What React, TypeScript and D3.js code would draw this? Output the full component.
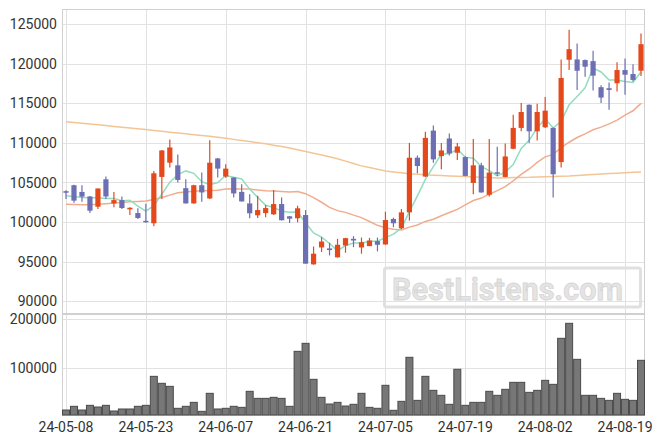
import React, { useEffect, useRef } from 'react';
import * as d3 from 'd3';

// trading days, 24-05-08 .. 24-08-21
const dates: string[] = [
  '24-05-08', '24-05-09', '24-05-10', '24-05-13', '24-05-14', '24-05-16', '24-05-17', '24-05-20',
  '24-05-21', '24-05-22', '24-05-23', '24-05-24', '24-05-27', '24-05-28', '24-05-29', '24-05-30',
  '24-05-31', '24-06-03', '24-06-04', '24-06-05', '24-06-07', '24-06-10', '24-06-11', '24-06-12',
  '24-06-13', '24-06-14', '24-06-17', '24-06-18', '24-06-19', '24-06-20', '24-06-21', '24-06-24',
  '24-06-25', '24-06-26', '24-06-27', '24-06-28', '24-07-01', '24-07-02', '24-07-03', '24-07-04',
  '24-07-05', '24-07-08', '24-07-09', '24-07-10', '24-07-11', '24-07-12', '24-07-15', '24-07-16',
  '24-07-17', '24-07-18', '24-07-19', '24-07-22', '24-07-23', '24-07-24', '24-07-25', '24-07-26',
  '24-07-29', '24-07-30', '24-07-31', '24-08-01', '24-08-02', '24-08-05', '24-08-06', '24-08-07',
  '24-08-08', '24-08-09', '24-08-12', '24-08-13', '24-08-14', '24-08-16', '24-08-19', '24-08-20',
  '24-08-21',
];

const opens: number[] = [
  103900, 104650, 103800, 103230, 101930, 105400, 102350, 102770, 101600, 101130, 100150, 99840,
  105700, 107500, 107165, 104280, 102350, 104650, 102980, 108040, 105750, 105620, 103810, 102350,
  100850, 101130, 100970, 102270, 100720, 100470, 100880, 94640, 96780, 96660, 95530, 97030,
  97870, 96780, 96950, 97580, 97160, 100380, 99210, 101220, 108130, 105750, 111560, 108340,
  110560, 108760, 108210, 104940, 107170, 103440, 106290, 105700, 109260, 111900, 114830, 111470,
  111980, 111900, 107580, 120520, 120560, 120480, 120350, 117050, 116920, 117550, 119220, 118720,
  119130,
];
const highs: number[] = [
  104000, 104700, 104650, 103300, 104250, 105750, 103800, 103230, 101850, 101730, 102300, 106450,
  109100, 110430, 108540, 105400, 104700, 106250, 110350, 108100, 107290, 105650, 104780, 103520,
  103310, 102140, 104060, 103110, 100750, 102060, 101510, 96900, 98080, 97370, 97870, 98000,
  98210, 98030, 98000, 98030, 101300, 100550, 101640, 110000, 108420, 111400, 112190, 110000,
  111180, 110000, 108300, 110500, 107500, 110500, 109510, 109930, 113570, 115040, 114850, 114950,
  115800, 111950, 120560, 124330, 122580, 120560, 121650, 117300, 117630, 120190, 120690, 119940,
  123830,
];
const lows: number[] = [
  102900, 102450, 102550, 101150, 101650, 102900, 101850, 101640, 100880, 100380, 99900, 99470,
  102900, 106880, 105000, 102350, 102300, 102560, 102900, 105620, 105600, 103110, 102600, 100470,
  100500, 100600, 100900, 100200, 99880, 99960, 94730, 94600, 96200, 95770, 95500, 96110,
  96820, 95990, 96950, 96280, 97100, 99340, 99100, 100170, 106160, 105700, 107500, 106660,
  108420, 107830, 105800, 103520, 103700, 103230, 105830, 105650, 109200, 111470, 110000, 110300,
  111900, 103110, 106880, 119220, 116710, 118380, 116630, 115040, 114200, 116500, 116080, 117760,
  118470,
];
const closes: number[] = [
  103700, 102700, 103200, 101430, 104240, 103230, 102770, 101770, 101800, 100510, 100050, 106160,
  109050, 109430, 105320, 102350, 104650, 103740, 107500, 106750, 106750, 103610, 102600, 101100,
  101510, 101760, 102270, 100220, 100420, 101730, 94730, 95990, 97530, 96450, 97120, 97960,
  97660, 97450, 97660, 97120, 100250, 99840, 101220, 108130, 107080, 110640, 107920, 109050,
  108670, 109550, 105830, 107170, 103740, 106250, 106130, 108290, 111900, 113910, 111470, 113910,
  114080, 106040, 118220, 121860, 119130, 119640, 118510, 115740, 116710, 119220, 118630, 117970,
  122490,
];
const volumes: number[] = [
  14300, 21900, 14300, 23900, 20500, 23900, 12300, 16400, 16400, 21900, 23900, 83300,
  69000, 62800, 17800, 21900, 30000, 11600, 48500, 16400, 17800, 21900, 19800, 52600,
  38200, 38200, 40300, 38200, 21900, 134500, 150900, 77200, 40300, 26600, 30000, 22500,
  26000, 48500, 19800, 17800, 64900, 13700, 32100, 122300, 34100, 83300, 54600, 44400,
  26000, 97700, 23900, 30000, 30000, 52600, 44400, 56700, 71000, 71000, 50500, 54600,
  75100, 66900, 161200, 191900, 118100, 44400, 44400, 38200, 34100, 48500, 36200, 34100,
  116100,
];

// moving averages
const ma5: number[] = [
  103310, 103230, 103100, 103060, 103054, 102960, 102974, 102688, 102762, 102016, 101380, 102058,
  103514, 105040, 106002, 106462, 106160, 105098, 104712, 104998, 105878, 105670, 105442, 104162,
  103114, 102116, 101848, 101372, 101236, 101280, 99874, 98618, 98080, 97286, 96364, 97010,
  97344, 97328, 97570, 97570, 98028, 98464, 99218, 101312, 103304, 105382, 106998, 108564,
  108672, 109166, 108204, 108054, 106992, 106508, 105824, 106316, 107262, 109296, 110340, 111896,
  113054, 111882, 112744, 114822, 115866, 116978, 119472, 118976, 117946, 117964, 117762, 117654,
  119004,
];
const ma20: number[] = [
  102230, 102200, 102180, 102180, 102250, 102320, 102400, 102480, 102550, 102600, 102650, 102850,
  103100, 103400, 103700, 103800, 103900, 103950, 103990, 104018, 104170, 104216, 104186, 104169,
  104033, 103959, 103934, 103857, 103788, 103849, 103583, 103074, 102498, 101849, 101439, 101220,
  100870, 100556, 100064, 99582, 99257, 99069, 99000, 99351, 99630, 100074, 100356, 100798,
  101210, 101601, 102156, 102715, 103026, 103516, 103966, 104483, 105195, 106018, 106708, 107548,
  108239, 108549, 109399, 110086, 110688, 111138, 111668, 112002, 112404, 112888, 113528, 114068,
  115005,
];
const ma60: number[] = [
  112690, 112590, 112490, 112390, 112290, 112190, 112090, 111990, 111890, 111790, 111690, 111580,
  111470, 111360, 111250, 111150, 111050, 110950, 110850, 110720, 110590, 110450, 110310, 110170,
  110030, 109900, 109720, 109540, 109350, 109130, 108920, 108700, 108470, 108240, 108000, 107700,
  107400, 107100, 106880, 106660, 106450, 106330, 106220, 106100, 106040, 105970, 105910, 105870,
  105830, 105790, 105740, 105700, 105660, 105620, 105580, 105600, 105620, 105640, 105650, 105690,
  105720, 105760, 105800, 105830, 105890, 105950, 106010, 106070, 106120, 106170, 106230, 106280,
  106330,
];

const priceTicks: number[] = [90000, 95000, 100000, 105000, 110000, 115000, 120000, 125000];
const volumeTicks: number[] = [100000, 200000];
const labelIdx: number[] = [0, 10, 20, 30, 40, 50, 60, 70];

const WIDTH = 663;
const HEIGHT = 444;
const LEFT = 62;
const RIGHT = 645;
const PRICE_TOP = 9;
const PRICE_BOTTOM = 313;
const VOL_TOP = 314;
const VOL_BOTTOM = 415;

const UP = '#e5491b';
const DOWN = '#6c6fb4';
const FONT = 'Roboto, sans-serif';

export default function App(): JSX.Element {
  const svgRef = useRef<SVGSVGElement>(null);

  useEffect(() => {
    document.body.style.margin = '0';
    const svg = d3.select(svgRef.current);
    svg.selectAll('*').remove();

    const idx = dates.map((_, i) => i);
    const x = d3.scaleBand<number>().domain(idx).range([LEFT, RIGHT]);
    const bw = x.bandwidth();
    const cx = (i: number) => (x(i) as number) + bw / 2;
    const y = d3.scaleLinear().domain([88490, 126940]).range([PRICE_BOTTOM, PRICE_TOP]);
    const yv = d3.scaleLinear().domain([0, 211000]).range([417, VOL_TOP]);

    const grid = svg.append('g').attr('stroke', '#e2e2e2').attr('stroke-width', 1);
    // horizontal grid
    priceTicks.forEach((t) => {
      const yy = Math.round(y(t)) + 0.5;
      grid.append('line').attr('x1', LEFT).attr('x2', RIGHT).attr('y1', yy).attr('y2', yy);
    });
    volumeTicks.forEach((t) => {
      const yy = Math.round(yv(t)) + 0.5;
      grid.append('line').attr('x1', LEFT).attr('x2', RIGHT).attr('y1', yy).attr('y2', yy);
    });
    // vertical grid
    labelIdx.forEach((i) => {
      const xx = Math.round(cx(i)) + 0.5;
      grid.append('line').attr('x1', xx).attr('x2', xx).attr('y1', PRICE_TOP).attr('y2', VOL_BOTTOM);
    });

    // frames
    const frame = svg.append('g').attr('fill', 'none').attr('stroke', '#d0d0d0');
    frame.append('rect')
      .attr('x', LEFT + 0.5).attr('y', PRICE_TOP + 0.5)
      .attr('width', RIGHT - LEFT - 1).attr('height', PRICE_BOTTOM - PRICE_TOP);
    frame.append('rect')
      .attr('x', LEFT + 0.5).attr('y', VOL_TOP + 0.5)
      .attr('width', RIGHT - LEFT - 1).attr('height', VOL_BOTTOM - VOL_TOP);

    // watermark
    const wm = svg.append('g');
    wm.append('rect')
      .attr('x', 384.5).attr('y', 268).attr('width', 256).attr('height', 39).attr('rx', 2)
      .attr('fill', 'none').attr('stroke', '#e0e0e0').attr('stroke-width', 3);
    wm.append('text')
      .attr('x', 392).attr('y', 300)
      .attr('font-family', FONT).attr('font-weight', 'bold').attr('font-size', 32)
      .attr('textLength', 231).attr('lengthAdjust', 'spacingAndGlyphs')
      .attr('fill', '#e4e4e4').attr('stroke', '#d6d6d6').attr('stroke-width', 0.8)
      .text('BestListens.com');

    // moving averages
    const line = (vals: number[]) =>
      d3.line<number>().x((_, i) => cx(i)).y((v) => y(v))(vals) as string;
    const maG = svg.append('g').attr('fill', 'none').attr('stroke-width', 1.5);
    maG.append('path').attr('d', line(ma60)).attr('stroke', '#f3c595');
    maG.append('path').attr('d', line(ma20)).attr('stroke', '#f0ac8c');
    maG.append('path').attr('d', line(ma5)).attr('stroke', '#93dcbf');

    // candles
    const candles = svg.append('g');
    idx.forEach((i) => {
      const o = opens[i];
      const c = closes[i];
      const col = c >= o ? UP : DOWN;
      const xc = cx(i);
      candles.append('line')
        .attr('x1', xc).attr('x2', xc)
        .attr('y1', y(highs[i])).attr('y2', y(lows[i]))
        .attr('stroke', col).attr('stroke-width', 1.2);
      const top = y(Math.max(o, c));
      const h = Math.max(1.5, Math.abs(y(o) - y(c)));
      candles.append('rect')
        .attr('x', xc - 2.6).attr('y', top).attr('width', 5.2).attr('height', h)
        .attr('fill', col);
    });

    // volume bars
    const vol = svg.append('g');
    idx.forEach((i) => {
      const top = yv(volumes[i]);
      vol.append('rect')
        .attr('x', (x(i) as number) + 0.5).attr('y', top)
        .attr('width', bw - 1).attr('height', Math.max(0, VOL_BOTTOM - top))
        .attr('fill', '#777777').attr('stroke', '#4a4a4a').attr('stroke-width', 1);
    });

    // axis labels
    const labels = svg.append('g')
      .attr('font-family', FONT).attr('font-size', 14).attr('fill', '#333');
    priceTicks.forEach((t) => {
      labels.append('text')
        .attr('x', 57).attr('y', y(t)).attr('dy', '0.36em').attr('text-anchor', 'end')
        .text(String(t));
    });
    volumeTicks.forEach((t) => {
      labels.append('text')
        .attr('x', 57).attr('y', yv(t)).attr('dy', '0.36em').attr('text-anchor', 'end')
        .text(String(t));
    });
    labelIdx.forEach((i) => {
      labels.append('text')
        .attr('x', cx(i)).attr('y', 432).attr('text-anchor', 'middle')
        .text(dates[i]);
    });
  }, []);

  return <svg ref={svgRef} width={WIDTH} height={HEIGHT} style={{ display: 'block' }} />;
}
